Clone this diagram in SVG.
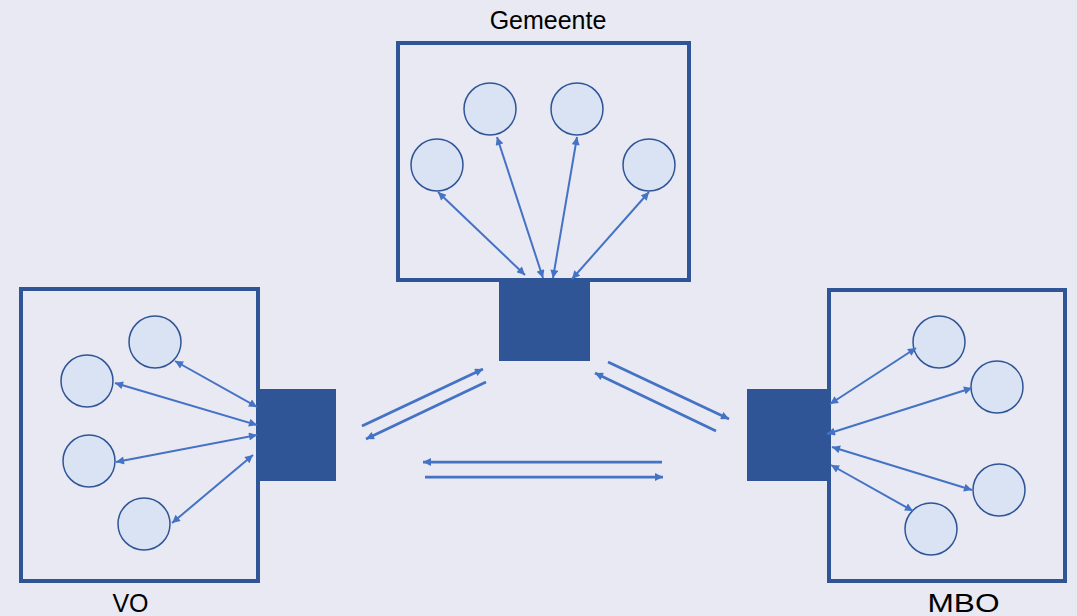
<svg xmlns="http://www.w3.org/2000/svg" width="1077" height="616" viewBox="0 0 1077 616">
<style>
.frame{fill:none;stroke:#2F5597;stroke-width:4}
.hub{fill:#2F5597;stroke:none}
.c{fill:#DAE3F3;stroke:#2F5597;stroke-width:1.5}
.lbl{font-family:"Liberation Sans",Arial,sans-serif;font-size:25px;fill:#000;text-anchor:middle}
.a2{stroke:#4472C4;stroke-width:2;fill:none;marker-start:url(#hs);marker-end:url(#he)}
.a1{stroke:#4472C4;stroke-width:2.75;fill:none;marker-end:url(#he)}
</style>
<defs>
<marker id="he" viewBox="0 0 10 10" refX="10" refY="5" markerWidth="10" markerHeight="8" markerUnits="userSpaceOnUse" orient="auto"><path d="M0,0L10,5L0,10z" fill="#4472C4"/></marker>
<marker id="hs" viewBox="0 0 10 10" refX="0" refY="5" markerWidth="10" markerHeight="8" markerUnits="userSpaceOnUse" orient="auto"><path d="M10,0L0,5L10,10z" fill="#4472C4"/></marker>
</defs>
<rect width="1077" height="616" fill="#E8E9F3"/>
<g id="gemeente">
<rect class="frame" x="398" y="43" width="291" height="237"/>
<rect class="hub" x="499" y="280" width="91" height="81"/>
<circle class="c" cx="437" cy="165" r="26"/>
<circle class="c" cx="490" cy="109" r="26"/>
<circle class="c" cx="577" cy="109" r="26"/>
<circle class="c" cx="649" cy="165" r="26"/>
<text class="lbl" x="548" y="29">Gemeente</text>
</g>
<g id="vo">
<rect class="frame" x="21" y="289" width="237" height="292"/>
<rect class="hub" x="258" y="389" width="78" height="92"/>
<circle class="c" cx="155" cy="342" r="26"/>
<circle class="c" cx="87" cy="381" r="26"/>
<circle class="c" cx="89" cy="461" r="26"/>
<circle class="c" cx="144" cy="524" r="26"/>
<text class="lbl" x="130.5" y="612">VO</text>
</g>
<g id="mbo">
<rect class="frame" x="829" y="290" width="236" height="291"/>
<rect class="hub" x="747" y="389" width="82" height="92"/>
<circle class="c" cx="939" cy="342" r="26"/>
<circle class="c" cx="997" cy="387" r="26"/>
<circle class="c" cx="999" cy="490" r="26"/>
<circle class="c" cx="931" cy="529" r="26"/>
<text class="lbl" x="963.5" y="612" textLength="72" lengthAdjust="spacingAndGlyphs">MBO</text>
</g>
<g id="connectors">
<line class="a2" x1="438" y1="192" x2="525" y2="275"/>
<line class="a2" x1="497" y1="137" x2="543" y2="278"/>
<line class="a2" x1="577" y1="137" x2="553" y2="278"/>
<line class="a2" x1="649" y1="192" x2="572" y2="279"/>
<line class="a2" x1="175" y1="361" x2="257" y2="407"/>
<line class="a2" x1="115" y1="383" x2="257" y2="425"/>
<line class="a2" x1="116" y1="462" x2="257" y2="435"/>
<line class="a2" x1="172" y1="523" x2="253" y2="455"/>
<line class="a2" x1="830" y1="404" x2="916" y2="348"/>
<line class="a2" x1="827" y1="434" x2="972" y2="388"/>
<line class="a2" x1="832" y1="447" x2="972" y2="490"/>
<line class="a2" x1="831" y1="465" x2="913" y2="511"/>
<line class="a1" x1="362" y1="426" x2="483" y2="369"/>
<line class="a1" x1="486" y1="382" x2="366" y2="439"/>
<line class="a1" x1="608" y1="362" x2="729" y2="419"/>
<line class="a1" x1="716" y1="431" x2="595" y2="373"/>
<line class="a1" x1="662" y1="462" x2="423" y2="462"/>
<line class="a1" x1="425" y1="477" x2="663" y2="477"/>
</g>
</svg>
